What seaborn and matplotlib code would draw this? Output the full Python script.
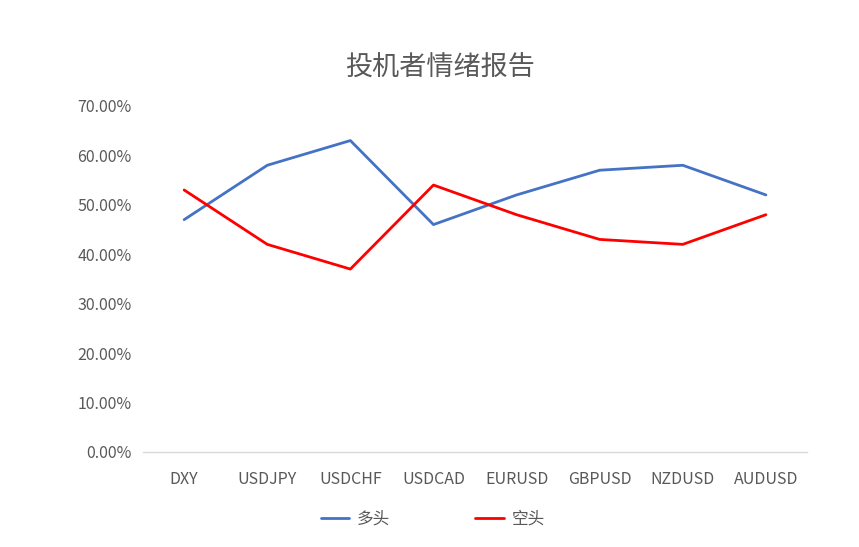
import matplotlib
matplotlib.use("Agg")
import matplotlib.pyplot as plt
import seaborn as sns
import pandas as pd
from matplotlib.ticker import PercentFormatter
from matplotlib.lines import Line2D

categories = ["DXY", "USDJPY", "USDCHF", "USDCAD", "EURUSD", "GBPUSD", "NZDUSD", "AUDUSD"]
long_vals = [0.47, 0.58, 0.63, 0.46, 0.52, 0.57, 0.58, 0.52]
short_vals = [0.53, 0.42, 0.37, 0.54, 0.48, 0.43, 0.42, 0.48]
series_names = ["多头", "空头"]
title = "投机者情绪报告"

sns.set_theme(style="white")
plt.rcParams['font.family'] = ['Noto Sans CJK SC', 'DejaVu Sans']

df = pd.DataFrame({
    "cat": categories * 2,
    "pos": list(range(len(categories))) * 2,
    "val": long_vals + short_vals,
    "series": [series_names[0]] * len(categories) + [series_names[1]] * len(categories),
})

fig = plt.figure(figsize=(8.59, 5.47), dpi=100)
ax = fig.add_axes([0.166, 0.1737, 0.774, 0.6326])
sns.lineplot(data=df, x="pos", y="val", hue="series", palette=["#4472C4", "#FF0000"],
             linewidth=2.0, ax=ax, legend=False, sort=False)

ax.set_xlim(-0.5, len(categories) - 0.5)
ax.set_ylim(0, 0.7)
ax.set_yticks([i / 10 for i in range(8)])
ax.yaxis.set_major_formatter(PercentFormatter(1.0, decimals=2))
ax.set_xticks(range(len(categories)))
ax.set_xticklabels(categories)
ax.tick_params(axis='both', length=0, labelsize=11.5, colors="#595959", pad=8)
ax.tick_params(axis='x', pad=14)
ax.set_xlabel("")
ax.set_ylabel("")
for s in ["top", "right", "left"]:
    ax.spines[s].set_visible(False)
ax.spines["bottom"].set_color("#D9D9D9")
ax.spines["bottom"].set_linewidth(1.0)
ax.grid(False)

fig.text(0.512, 0.875, title, ha="center", va="center", fontsize=19.5, color="#595959")

handles = [Line2D([], [], color="#4472C4", lw=2.0), Line2D([], [], color="#FF0000", lw=2.0)]
fig.legend(handles, series_names, loc="center", bbox_to_anchor=(0.504, 0.051), ncol=2,
           frameon=False, fontsize=12, labelcolor="#595959", columnspacing=5.1,
           handlelength=1.7, handletextpad=0.5)

fig.savefig("out.png", dpi=100)
